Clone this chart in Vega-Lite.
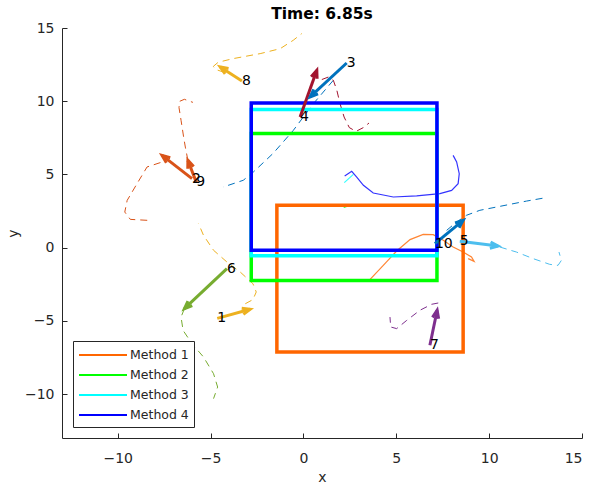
{
  "$schema": "https://vega.github.io/schema/vega-lite/v6.json",
  "width": 520,
  "height": 410,
  "autosize": {"type": "none"},
  "padding": {"left": 62, "top": 28, "right": 8, "bottom": 48},
  "background": "white",
  "title": {"text": "Time: 6.85s", "fontSize": 15.5, "fontWeight": "bold", "font": "DejaVu Sans", "color": "#000000", "anchor": "middle", "offset": -1},
  "config": {
    "view": {"stroke": null},
    "axis": {"grid": false, "domainColor": "#262626", "tickColor": "#262626", "labelColor": "#262626", "titleColor": "#262626", "labelFont": "DejaVu Sans", "titleFont": "DejaVu Sans", "labelFontSize": 14, "titleFontSize": 14, "titleFontWeight": "normal", "domainWidth": 1, "tickWidth": 1}
  },
  "datasets": {
    "rects": [
      {"method": "Method 1", "x": -1.43, "x2": 8.6, "y": -7.13, "y2": 2.89},
      {"method": "Method 2", "x": -2.81, "x2": 7.19, "y": -2.25, "y2": 7.79},
      {"method": "Method 3", "x": -2.81, "x2": 7.19, "y": -0.55, "y2": 9.43},
      {"method": "Method 4", "x": -2.81, "x2": 7.19, "y": -0.18, "y2": 9.88}
    ],
    "tracks": [
      {"key": "Method 1", "o": 1, "x": 3.59, "y": -2.17},
      {"key": "Method 1", "o": 2, "x": 4.3, "y": -1.21},
      {"key": "Method 1", "o": 3, "x": 5.02, "y": -0.23},
      {"key": "Method 1", "o": 4, "x": 5.74, "y": 0.55},
      {"key": "Method 1", "o": 5, "x": 6.45, "y": 0.91},
      {"key": "Method 1", "o": 6, "x": 6.99, "y": 0.89},
      {"key": "Method 1", "o": 7, "x": 7.53, "y": 0.5},
      {"key": "Method 1", "o": 8, "x": 8.06, "y": 0.04},
      {"key": "Method 1", "o": 9, "x": 8.6, "y": -0.3},
      {"key": "Method 1", "o": 10, "x": 9.05, "y": -0.64},
      {"key": "Method 1", "o": 11, "x": 9.19, "y": -0.94},
      {"key": "Method 1", "o": 12, "x": 8.87, "y": -0.75},
      {"key": "Method 2", "o": 1, "x": 2.17, "y": 2.75},
      {"key": "Method 2", "o": 2, "x": 2.5, "y": 2.89},
      {"key": "Method 2", "o": 3, "x": 8.45, "y": 2.89},
      {"key": "Method 3", "o": 1, "x": 2.2, "y": 4.44},
      {"key": "Method 3", "o": 2, "x": 2.69, "y": 5.0},
      {"key": "Method 4", "o": 1, "x": 2.22, "y": 4.89},
      {"key": "Method 4", "o": 2, "x": 2.6, "y": 5.21},
      {"key": "Method 4", "o": 3, "x": 2.87, "y": 4.82},
      {"key": "Method 4", "o": 4, "x": 3.23, "y": 4.26},
      {"key": "Method 4", "o": 5, "x": 3.76, "y": 3.73},
      {"key": "Method 4", "o": 6, "x": 4.84, "y": 3.46},
      {"key": "Method 4", "o": 7, "x": 6.1, "y": 3.53},
      {"key": "Method 4", "o": 8, "x": 7.35, "y": 3.69},
      {"key": "Method 4", "o": 9, "x": 7.98, "y": 3.91},
      {"key": "Method 4", "o": 10, "x": 8.33, "y": 4.37},
      {"key": "Method 4", "o": 11, "x": 8.39, "y": 5.05},
      {"key": "Method 4", "o": 12, "x": 8.25, "y": 5.85},
      {"key": "Method 4", "o": 13, "x": 8.06, "y": 6.3}
    ],
    "preds": [
      {"key": "A1", "o": 1, "x": -3.13, "y": -3.83},
      {"key": "A1", "o": 2, "x": -2.72, "y": -3.55},
      {"key": "A1", "o": 3, "x": -2.54, "y": -3.03},
      {"key": "A1", "o": 4, "x": -2.72, "y": -2.46},
      {"key": "A1", "o": 5, "x": -3.4, "y": -1.67},
      {"key": "A1", "o": 6, "x": -4.12, "y": -0.98},
      {"key": "A1", "o": 7, "x": -4.84, "y": -0.18},
      {"key": "A1", "o": 8, "x": -5.38, "y": 0.84},
      {"key": "A1", "o": 9, "x": -5.65, "y": 1.64},
      {"key": "A2", "o": 1, "x": -7.7, "y": 5.81},
      {"key": "A2", "o": 2, "x": -8.42, "y": 5.51},
      {"key": "A2", "o": 3, "x": -8.96, "y": 4.37},
      {"key": "A2", "o": 4, "x": -9.49, "y": 3.23},
      {"key": "A2", "o": 5, "x": -9.62, "y": 2.43},
      {"key": "A2", "o": 6, "x": -9.32, "y": 1.93},
      {"key": "A2", "o": 7, "x": -8.33, "y": 1.86},
      {"key": "A3", "o": 1, "x": 1.61, "y": 11.43},
      {"key": "A3", "o": 2, "x": 0.54, "y": 9.84},
      {"key": "A3", "o": 3, "x": -0.55, "y": 8.0},
      {"key": "A3", "o": 4, "x": -1.63, "y": 6.44},
      {"key": "A3", "o": 5, "x": -2.7, "y": 5.16},
      {"key": "A3", "o": 6, "x": -3.24, "y": 4.6},
      {"key": "A3", "o": 7, "x": -4.32, "y": 4.14},
      {"key": "A4", "o": 1, "x": 0.99, "y": 11.48},
      {"key": "A4", "o": 2, "x": 1.34, "y": 11.65},
      {"key": "A4", "o": 3, "x": 1.61, "y": 11.43},
      {"key": "A4", "o": 4, "x": 1.8, "y": 10.74},
      {"key": "A4", "o": 5, "x": 1.97, "y": 9.84},
      {"key": "A4", "o": 6, "x": 2.19, "y": 8.92},
      {"key": "A4", "o": 7, "x": 2.47, "y": 8.2},
      {"key": "A4", "o": 8, "x": 2.83, "y": 7.94},
      {"key": "A4", "o": 9, "x": 3.23, "y": 8.2},
      {"key": "A4", "o": 10, "x": 3.53, "y": 8.51},
      {"key": "A5", "o": 1, "x": 10.58, "y": 0.04},
      {"key": "A5", "o": 2, "x": 11.47, "y": -0.3},
      {"key": "A5", "o": 3, "x": 12.37, "y": -0.75},
      {"key": "A5", "o": 4, "x": 13.26, "y": -1.14},
      {"key": "A5", "o": 5, "x": 13.71, "y": -1.21},
      {"key": "A5", "o": 6, "x": 13.89, "y": -0.87},
      {"key": "A5", "o": 7, "x": 13.76, "y": -0.3},
      {"key": "A6", "o": 1, "x": -6.41, "y": -4.17},
      {"key": "A6", "o": 2, "x": -6.59, "y": -4.74},
      {"key": "A6", "o": 3, "x": -6.48, "y": -5.65},
      {"key": "A6", "o": 4, "x": -6.0, "y": -6.56},
      {"key": "A6", "o": 5, "x": -5.38, "y": -7.47},
      {"key": "A6", "o": 6, "x": -4.84, "y": -8.61},
      {"key": "A6", "o": 7, "x": -4.62, "y": -9.52},
      {"key": "A6", "o": 8, "x": -4.84, "y": -10.31},
      {"key": "A7", "o": 1, "x": 7.26, "y": -3.78},
      {"key": "A7", "o": 2, "x": 6.9, "y": -3.87},
      {"key": "A7", "o": 3, "x": 6.27, "y": -4.28},
      {"key": "A7", "o": 4, "x": 5.56, "y": -4.97},
      {"key": "A7", "o": 5, "x": 5.02, "y": -5.53},
      {"key": "A7", "o": 6, "x": 4.7, "y": -5.42},
      {"key": "A7", "o": 7, "x": 4.66, "y": -4.74},
      {"key": "A8", "o": 1, "x": -4.26, "y": 11.97},
      {"key": "A8", "o": 2, "x": -4.75, "y": 12.18},
      {"key": "A8", "o": 3, "x": -4.85, "y": 12.38},
      {"key": "A8", "o": 4, "x": -4.59, "y": 12.66},
      {"key": "A8", "o": 5, "x": -3.78, "y": 12.91},
      {"key": "A8", "o": 6, "x": -2.33, "y": 13.25},
      {"key": "A8", "o": 7, "x": -1.25, "y": 13.59},
      {"key": "A8", "o": 8, "x": -0.55, "y": 14.16},
      {"key": "A8", "o": 9, "x": -0.09, "y": 14.62},
      {"key": "A9", "o": 1, "x": -6.22, "y": 5.96},
      {"key": "A9", "o": 2, "x": -6.36, "y": 6.87},
      {"key": "A9", "o": 3, "x": -6.45, "y": 7.55},
      {"key": "A9", "o": 4, "x": -6.59, "y": 8.7},
      {"key": "A9", "o": 5, "x": -6.7, "y": 9.56},
      {"key": "A9", "o": 6, "x": -6.67, "y": 9.99},
      {"key": "A9", "o": 7, "x": -6.41, "y": 10.13},
      {"key": "A9", "o": 8, "x": -5.95, "y": 9.92},
      {"key": "A10", "o": 1, "x": 7.71, "y": 1.18},
      {"key": "A10", "o": 2, "x": 8.25, "y": 1.75},
      {"key": "A10", "o": 3, "x": 8.78, "y": 2.21},
      {"key": "A10", "o": 4, "x": 9.5, "y": 2.55},
      {"key": "A10", "o": 5, "x": 10.58, "y": 2.82},
      {"key": "A10", "o": 6, "x": 12.01, "y": 3.18},
      {"key": "A10", "o": 7, "x": 13.09, "y": 3.42}
    ],
    "arrows": [
      {"agent": "1", "key": "A1", "x0": -4.64, "y0": -4.83, "x1": -2.87, "y1": -4.21},
      {"agent": "2", "key": "A2", "x0": -6.0, "y0": 4.71, "x1": -7.61, "y1": 6.3},
      {"agent": "3", "key": "A3", "x0": 2.33, "y0": 12.61, "x1": 0.36, "y1": 10.29},
      {"agent": "4", "key": "A4", "x0": -0.18, "y0": 8.92, "x1": 0.72, "y1": 12.11},
      {"agent": "5", "key": "A5", "x0": 8.42, "y0": 0.43, "x1": 10.48, "y1": 0.11},
      {"agent": "6", "key": "A6", "x0": -4.12, "y0": -1.43, "x1": -6.41, "y1": -4.17},
      {"agent": "7", "key": "A7", "x0": 6.81, "y0": -6.67, "x1": 7.2, "y1": -4.28},
      {"agent": "8", "key": "A8", "x0": -3.31, "y0": 11.38, "x1": -4.48, "y1": 12.34},
      {"agent": "9", "key": "A9", "x0": -5.77, "y0": 4.46, "x1": -6.22, "y1": 5.96},
      {"agent": "10", "key": "A10", "x0": 7.08, "y0": 0.27, "x1": 8.6, "y1": 1.86}
    ]
  },
  "encoding": {
    "x": {"type": "quantitative", "scale": {"domain": [-13, 15], "nice": false, "zero": false}},
    "y": {"type": "quantitative", "scale": {"domain": [-13, 15], "nice": false, "zero": false}}
  },
  "layer": [
    {
      "data": {"name": "tracks"},
      "mark": {"type": "line", "strokeWidth": 1.2, "opacity": 0.8},
      "encoding": {
        "x": {"field": "x", "type": "quantitative", "axis": {"title": "x", "values": [-10, -5, 0, 5, 10, 15], "tickSize": -5, "labelPadding": 18, "titlePadding": 5}},
        "y": {"field": "y", "type": "quantitative", "axis": {"title": "y", "values": [-10, -5, 0, 5, 10, 15], "tickSize": -5, "labelPadding": 13, "titlePadding": 4}},
        "detail": {"field": "key"},
        "order": {"field": "o", "type": "quantitative"},
        "color": {"field": "key", "type": "nominal",
          "scale": {
            "domain": ["Method 1", "Method 2", "Method 3", "Method 4", "A1", "A2", "A3", "A4", "A5", "A6", "A7", "A8", "A9", "A10"],
            "range": ["#FF6600", "#00FF00", "#00FFFF", "#0000FF", "#EDB120", "#D95319", "#0072BD", "#A2142F", "#4DBEEE", "#77AC30", "#7E2F8E", "#EDB120", "#D95319", "#0072BD"]
          },
          "legend": {
            "values": ["Method 1", "Method 2", "Method 3", "Method 4"],
            "title": null,
            "orient": "none",
            "legendX": 11,
            "legendY": 313,
            "symbolType": "M-3,0L3,0",
            "symbolSize": 256,
            "symbolOffset": 16,
            "symbolStrokeWidth": 2,
            "symbolOpacity": 0.65,
            "labelFont": "DejaVu Sans",
            "labelFontSize": 12.5,
            "labelColor": "#262626",
            "labelOffset": 18,
            "rowPadding": 4,
            "padding": 5,
            "strokeColor": "#262626",
            "fillColor": "white",
            "cornerRadius": 0
          }
        }
      }
    },
    {
      "data": {"name": "preds"},
      "mark": {"type": "line", "strokeWidth": 1, "strokeDash": [7, 5]},
      "encoding": {
        "x": {"field": "x", "type": "quantitative"},
        "y": {"field": "y", "type": "quantitative"},
        "detail": {"field": "key"},
        "order": {"field": "o", "type": "quantitative"},
        "color": {"field": "key", "type": "nominal"}
      }
    },
    {
      "data": {"name": "rects"},
      "mark": {"type": "rect", "filled": false, "strokeWidth": 3.5},
      "encoding": {
        "x": {"field": "x", "type": "quantitative"},
        "x2": {"field": "x2"},
        "y": {"field": "y", "type": "quantitative"},
        "y2": {"field": "y2"},
        "color": {"field": "method", "type": "nominal"}
      }
    },
    {
      "data": {"name": "arrows"},
      "mark": {"type": "rule", "strokeWidth": 3},
      "encoding": {
        "x": {"field": "x0", "type": "quantitative"},
        "y": {"field": "y0", "type": "quantitative"},
        "x2": {"field": "x1"},
        "y2": {"field": "y1"},
        "color": {"field": "key", "type": "nominal"}
      }
    },
    {
      "data": {"name": "arrows"},
      "transform": [
        {"calculate": "atan2((datum.x1 - datum.x0) * 18.6, (datum.y1 - datum.y0) * 14.64) * 180 / PI", "as": "heading"}
      ],
      "mark": {"type": "point", "shape": "M -0.6 1.5 L 0 0 L 0.6 1.5", "filled": false, "opacity": 1, "size": 110, "strokeWidth": 3, "strokeJoin": "miter"},
      "encoding": {
        "x": {"field": "x1", "type": "quantitative"},
        "y": {"field": "y1", "type": "quantitative"},
        "angle": {"field": "heading", "type": "quantitative", "scale": {"domain": [-180, 180], "range": [-180, 180]}},
        "color": {"field": "key", "type": "nominal"}
      }
    },
    {
      "data": {"name": "arrows"},
      "mark": {"type": "text", "align": "left", "baseline": "middle", "font": "DejaVu Sans", "fontSize": 14, "color": "#000000"},
      "encoding": {
        "x": {"field": "x0", "type": "quantitative"},
        "y": {"field": "y0", "type": "quantitative"},
        "text": {"field": "agent"}
      }
    }
  ]
}
